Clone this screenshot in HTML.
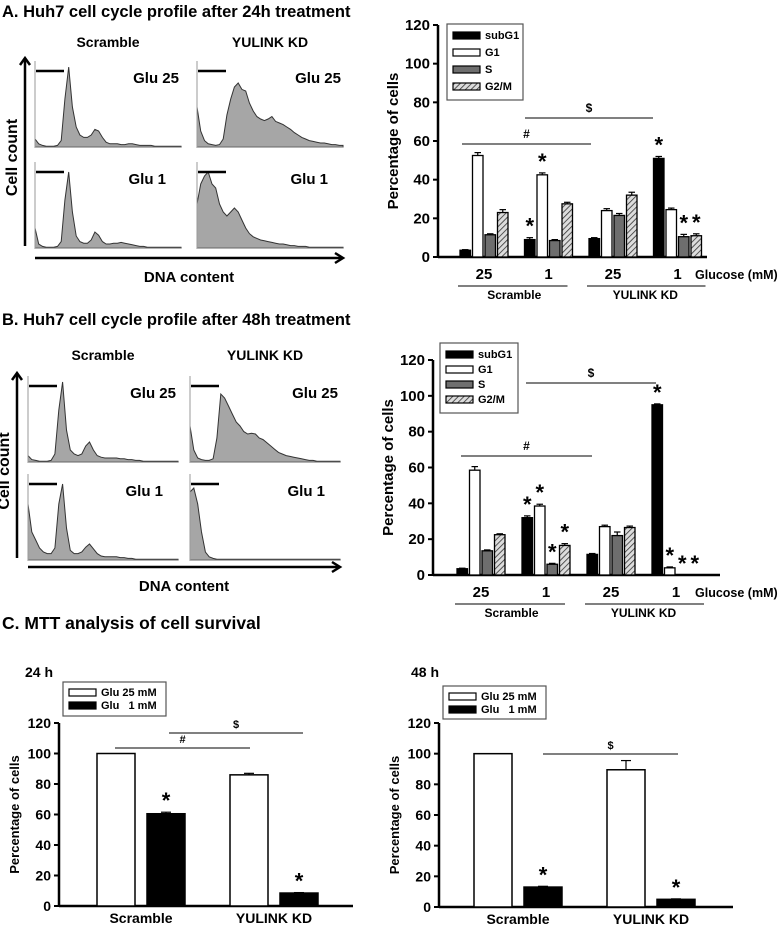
<!DOCTYPE html>
<html><head><meta charset="utf-8">
<style>
html,body{margin:0;padding:0;background:#fff;}
svg{display:block;font-family:"Liberation Sans",Arial,sans-serif;}
</style></head>
<body>
<svg id="fig" width="778" height="926" viewBox="0 0 778 926" xmlns="http://www.w3.org/2000/svg">
<defs>
<pattern id="hatch" patternUnits="userSpaceOnUse" width="4" height="4" patternTransform="rotate(45)">
<rect width="4" height="4" fill="#dcdcdc"/><line x1="0" y1="0" x2="0" y2="4" stroke="#333" stroke-width="1.6"/>
</pattern>
</defs>
<text x="2" y="17" font-size="16.5" font-weight="bold">A. Huh7 cell cycle profile after 24h treatment</text>
<text x="2" y="325" font-size="16.5" font-weight="bold">B. Huh7 cell cycle profile after 48h treatment</text>
<text x="2" y="629" font-size="17.5" font-weight="bold">C. MTT analysis of cell survival</text>
<text x="25" y="677" font-size="14" font-weight="bold">24 h</text>
<text x="411" y="677" font-size="14" font-weight="bold">48 h</text>
<g id="root"></g>
</svg>
<script>
// ---------- Histogram data (normalized heights, 0..1) ----------
const histA_scr25 = [0.1,0.04,0.02,0.01,0.01,0.01,0.02,0.08,0.6,1.0,0.5,0.25,0.15,0.12,0.12,0.15,0.22,0.2,0.12,0.06,0.04,0.04,0.04,0.03,0.03,0.04,0.04,0.03,0.02,0.02,0.02,0.02,0.01,0.01,0.01,0.01,0.01,0.01,0.01,0.01];
const histA_kd25 = [0.5,0.2,0.08,0.04,0.03,0.02,0.03,0.1,0.4,0.6,0.75,0.8,0.72,0.7,0.55,0.45,0.38,0.35,0.33,0.35,0.38,0.32,0.3,0.28,0.25,0.22,0.18,0.15,0.12,0.1,0.08,0.07,0.06,0.05,0.05,0.04,0.03,0.03,0.02,0.02];
const histA_scr1 = [0.25,0.05,0.02,0.01,0.01,0.01,0.02,0.08,0.6,0.95,0.45,0.15,0.08,0.06,0.06,0.1,0.2,0.16,0.08,0.05,0.05,0.06,0.06,0.07,0.06,0.05,0.04,0.03,0.02,0.02,0.01,0.01,0.01,0.01,0.01,0.01,0.01,0.01,0.01,0.01];
const histA_kd1 = [0.55,0.8,0.9,0.95,0.8,0.75,0.55,0.45,0.4,0.45,0.5,0.45,0.35,0.25,0.18,0.14,0.12,0.1,0.09,0.08,0.07,0.06,0.05,0.05,0.04,0.03,0.03,0.02,0.02,0.02,0.01,0.01,0.01,0.01,0.01,0.01,0.01,0.01,0.01,0.01];
const histB_scr25 = [0.08,0.03,0.02,0.01,0.01,0.01,0.02,0.1,0.65,1.0,0.4,0.15,0.1,0.08,0.1,0.2,0.25,0.15,0.08,0.06,0.05,0.05,0.05,0.05,0.04,0.04,0.03,0.03,0.02,0.02,0.01,0.01,0.01,0.01,0.01,0.01,0.01,0.01,0.01,0.01];
const histB_kd25 = [0.45,0.15,0.05,0.03,0.02,0.02,0.04,0.3,0.85,0.8,0.7,0.6,0.5,0.45,0.38,0.35,0.36,0.35,0.3,0.28,0.24,0.2,0.16,0.12,0.1,0.08,0.07,0.06,0.05,0.04,0.03,0.02,0.02,0.01,0.01,0.01,0.01,0.01,0.01,0.01];
const histB_scr1 = [0.7,0.35,0.25,0.15,0.1,0.08,0.08,0.15,0.7,0.95,0.4,0.12,0.08,0.08,0.1,0.16,0.2,0.14,0.08,0.05,0.04,0.04,0.04,0.04,0.03,0.03,0.02,0.02,0.01,0.01,0.01,0.01,0.01,0.01,0.01,0.01,0.01,0.01,0.01,0.01];
const histB_kd1 = [0.85,0.9,0.7,0.35,0.1,0.04,0.02,0.01,0.01,0.01,0.01,0.01,0.01,0.01,0.01,0.01,0.01,0.01,0.01,0.01,0.01,0.01,0.01,0.01,0.01,0.01,0.01,0.01,0.01,0.01,0.01,0.01,0.01,0.01,0.01,0.01,0.01,0.01,0.01,0.01];

// ---------- Bar chart data ----------
const phaseSeries = ["subG1","G1","S","G2/M"];
const glucoseLabels = ["25","1","25","1"];
const yTicks = [0,20,40,60,80,100,120];
const a_subG1 = [3.5, 9, 9.5, 51];
const a_G1 = [52.5, 42.5, 24, 24.5];
const a_S = [11.5, 8.5, 21.5, 10.5];
const a_G2M = [23, 27.5, 32, 11];
const a_err = [[0.3,1,0.5,1],[1.5,1,1,0.8],[0.5,0.5,1,1.2],[1.5,0.8,1.5,1]];
const a_stars = [[1,0],[1,1],[3,0],[3,2],[3,3]];
const b_subG1 = [3.5, 32, 11.5, 95];
const b_G1 = [58.5, 38.5, 27, 4];
const b_S = [13.5, 6, 22, 0];
const b_G2M = [22.5, 16.5, 26.5, 0];
const b_err = [[0.3,1,0.5,0.5],[2,1,0.8,0.5],[0.5,0.5,2,0],[0.5,1,0.8,0]];
const b_stars = [[1,0],[1,1],[1,2],[1,3],[3,0],[3,1],[3,2],[3,3]];
const mttCategories = ["Scramble","YULINK KD"];
const mttSeries = ["Glu 25 mM","Glu   1 mM"];
const mtt24_high = [100, 86];
const mtt24_low = [60.5, 8.5];
const mtt24_err = [[0,1],[1,0.3]];
const mtt48_high = [100, 89.5];
const mtt48_low = [13, 5];
const mtt48_err = [[0,6],[0.5,0.3]];

const NS="http://www.w3.org/2000/svg";
const root=document.getElementById('root');
function mk(tag,attrs,parent){const e=document.createElementNS(NS,tag);for(const k in attrs)e.setAttribute(k,attrs[k]);(parent||root).appendChild(e);return e;}

function hist(data,x0,x1,base,H,name){
  const n=data.length;let d=`M${x0},${base}`;
  data.forEach((v,i)=>{d+=` L${(x0+(x1-x0)*i/(n-1)).toFixed(1)},${(base-v*H).toFixed(1)}`;});
  d+=` L${x1},${base} Z`;
  const p=mk('path',{d:d,fill:'#a6a6a6',stroke:'#333','stroke-width':1});
  
  
  const ax=mk('line',{x1:x0,y1:base,x2:x1,y2:base,stroke:'#666','stroke-width':1});
  
  
  const yl=mk('line',{x1:x0,y1:base,x2:x0,y2:base-H-6,stroke:'#999','stroke-width':1});
  
  
}
function txt(x,y,s,size,name,anchor,extra){
  const t=mk('text',Object.assign({x:x,y:y,'font-size':size,'font-weight':'bold','text-anchor':anchor||'start'},extra||{}));
  t.textContent=s;
  
  
  return t;
}
function line(x1,y1,x2,y2,w,name,col){
  const l=mk('line',{x1:x1,y1:y1,x2:x2,y2:y2,stroke:col||'#000','stroke-width':w});
  
  
  return l;
}
function histPanel(cfg){
  const p=cfg;
  txt(p.sx+(p.sw)/2,p.titleY,'Scramble',14,'scramble-column-title','middle');
  txt(p.kx+(p.sw)/2,p.titleY,'YULINK KD',14,'kd-column-title','middle');
  hist(p.d[0],p.sx,p.sx+p.sw,p.b1,p.H,'hist-scramble-glu25');
  hist(p.d[1],p.kx,p.kx+p.sw,p.b1,p.H,'hist-kd-glu25');
  hist(p.d[2],p.sx,p.sx+p.sw,p.b2,p.H,'hist-scramble-glu1');
  hist(p.d[3],p.kx,p.kx+p.sw,p.b2,p.H,'hist-kd-glu1');
  [[p.sx,p.b1],[p.kx,p.b1],[p.sx,p.b2],[p.kx,p.b2]].forEach((q,i)=>{
    line(q[0]+1,q[1]-p.H+4,q[0]+29,q[1]-p.H+4,2.5,'subg1-gate-marker');
  });
  txt(p.sx+p.sw-2,p.b1-p.H+16,'Glu 25',15,'label-glu25','end');
  txt(p.kx+p.sw-2,p.b1-p.H+16,'Glu 25',15,'label-glu25','end');
  txt(p.sx+p.sw-15,p.b2-p.H+16,'Glu 1',15,'label-glu1','end');
  txt(p.kx+p.sw-15,p.b2-p.H+16,'Glu 1',15,'label-glu1','end');
  line(p.ax,p.b2-2,p.ax,p.b1-p.H-8,2.5,'y-axis-arrow');
  mk('path',{d:`M${p.ax-5},${p.b1-p.H-2} L${p.ax},${p.b1-p.H-9} L${p.ax+5},${p.b1-p.H-2}`,fill:'none',stroke:'#000','stroke-width':2.5});
  line(p.sx,p.xa,p.kx+p.sw-2,p.xa,2.5,'x-axis-arrow');
  mk('path',{d:`M${p.kx+p.sw-8},${p.xa-5} L${p.kx+p.sw},${p.xa} L${p.kx+p.sw-8},${p.xa+5}`,fill:'none',stroke:'#000','stroke-width':2.5});
  txt(p.sx+(p.kx+p.sw-p.sx)/2,p.xa+24,'DNA content',15,'x-axis-title','middle');
  txt(0,0,'Cell count',16,'y-axis-title','middle',{transform:`translate(${p.ax-8},${(p.b1-p.H+p.b2)/2}) rotate(-90)`});
}
histPanel({sx:35,kx:197,sw:146,b1:147,b2:248,H:80,titleY:47,ax:25,xa:258,d:[histA_scr25,histA_kd25,histA_scr1,histA_kd1]});
histPanel({sx:28,kx:190,sw:150,b1:462,b2:560,H:80,titleY:360,ax:17,xa:567,d:[histB_scr25,histB_kd25,histB_scr1,histB_kd1]});

const fills=['#000','#fff','#6e6e6e','url(#hatch)'];
function star(x,y){txt(x,y+10,'*',22,'significance-star','middle');}
function axesY(ax,y0,yTop,xEnd,ys,fs){
  line(ax,y0,xEnd,y0,2.5,'x-axis');
  line(ax,y0+1,ax,yTop,2.5,'y-axis');
  yTicks.forEach(t=>{
    line(ax-5,ys(t),ax,ys(t),2,'y-tick');
    txt(ax-8,ys(t)+5,String(t),fs,'y-tick-label','end');
  });
}
function groupedChart(c,series,errs,stars){
  const ys=v=>c.y0-v*(c.y0-c.yTop)/120;
  axesY(c.ax,c.y0,c.yTop,c.xEnd,ys,15);
  series.forEach((arr,s)=>{
    arr.forEach((v,g)=>{
      const x=c.g0+g*c.gs+s*12.5;
      const r=mk('rect',{x:x,y:ys(v),width:10.5,height:Math.max(0,c.y0-ys(v)),fill:fills[s],stroke:'#000','stroke-width':1.3});
      
      
      const e=errs[s][g];
      if(e>0&&v>0){line(x+5.25,ys(v),x+5.25,ys(v+e),1.2,'error-bar');line(x+2,ys(v+e),x+8.5,ys(v+e),1.2,'error-cap');}
    });
  });
  stars.forEach(([g,s])=>{const v=series[s][g]+errs[s][g];const x=c.g0+g*c.gs+s*12.5+5.25;star(x,ys(v)-14);});
  glucoseLabels.forEach((l,g)=>txt(c.g0+g*c.gs+24,c.y0+22,l,15,'glucose-label','middle'));
  txt(695,c.y0+22,'Glucose (mM)',12.5,'glucose-axis-title','start');
  line(c.g0-2,c.y0+29,c.g0+c.gs+43,c.y0+29,1,'scramble-group-line');
  line(c.g0+2*c.gs-2,c.y0+29,c.g0+3*c.gs+52,c.y0+29,1,'kd-group-line');
  txt(c.g0+c.gs/2+22,c.y0+42,'Scramble',12,'scramble-group-label','middle');
  txt(c.g0+2.5*c.gs+24,c.y0+42,'YULINK KD',12,'kd-group-label','middle');
  line(c.hash[0],c.hash[2],c.hash[1],c.hash[2],1,'sig-line-hash');
  txt((c.hash[0]+c.hash[1])/2,c.hash[2]-6,'#',12,'sig-hash','middle');
  line(c.dol[0],c.dol[2],c.dol[1],c.dol[2],1,'sig-line-dollar');
  txt((c.dol[0]+c.dol[1])/2,c.dol[2]-6,'$',12,'sig-dollar','middle');
  txt(0,0,'Percentage of cells',15,'y-axis-title','middle',{transform:`translate(${c.ax-40},${(c.y0+c.yTop)/2}) rotate(-90)`});
  const lb=c.leg;
  const box=mk('rect',{x:lb[0],y:lb[1],width:lb[2],height:lb[3],fill:'#fff',stroke:'#555','stroke-width':1.2});
  
  
  phaseSeries.forEach((n,i)=>{
    const yy=lb[1]+8+i*c.legStep;
    const r=mk('rect',{x:lb[0]+6,y:yy,width:27,height:7,fill:fills[i],stroke:'#000','stroke-width':1.2});
    
    
    txt(lb[0]+38,yy+7,n,11,'legend-entry','start');
  });
}
groupedChart({ax:438,y0:257,yTop:25,xEnd:707,g0:460,gs:64.5,hash:[462,591,144],dol:[525,653,118],leg:[447,24,76,76],legStep:17},[a_subG1,a_G1,a_S,a_G2M],a_err,a_stars);
groupedChart({ax:433,y0:575,yTop:360,xEnd:720,g0:457,gs:65,hash:[461,592,456],dol:[526,656,383],leg:[440,343,78,70],legStep:15},[b_subG1,b_G1,b_S,b_G2M],b_err,b_stars);

function mttChart(c,high,low,errs){
  const ys=v=>c.y0-v*(c.y0-c.yTop)/120;
  axesY(c.ax,c.y0,c.yTop,c.xEnd,ys,14);
  [high,low].forEach((arr,s)=>{
    arr.forEach((v,g)=>{
      const x=c.b0+g*c.gs+s*c.ss;
      const r=mk('rect',{x:x,y:ys(v),width:38,height:c.y0-ys(v),fill:s?'#000':'#fff',stroke:'#000','stroke-width':1.5});
      
      
      const e=errs[s][g];
      if(e>0){line(x+19,ys(v),x+19,ys(v+e),1.2,'error-bar');line(x+14,ys(v+e),x+24,ys(v+e),1.2,'error-cap');}
      if(s===1) star(x+19,ys(v+e)-14);
    });
  });
  mttCategories.forEach((n,g)=>txt(c.b0+g*c.gs+c.ss/2+19,c.y0+17,n,14,'category-label','middle'));
  txt(0,0,'Percentage of cells',13,'y-axis-title','middle',{transform:`translate(${c.ax-40},${(c.y0+c.yTop)/2}) rotate(-90)`});
  c.sig.forEach(sg=>{line(sg[0],sg[2],sg[1],sg[2],1,'sig-line');txt((sg[0]+sg[1])/2,sg[2]-5,sg[3],11,'sig-symbol','middle');});
  const lb=c.leg;
  const box=mk('rect',{x:lb[0],y:lb[1],width:lb[2],height:lb[3],fill:'#fff',stroke:'#555','stroke-width':1.2});
  
  
  mttSeries.forEach((n,i)=>{
    const yy=lb[1]+7+i*13;
    const r=mk('rect',{x:lb[0]+6,y:yy,width:27,height:7,fill:i?'#000':'#fff',stroke:'#000','stroke-width':1.2});
    
    
    const t=txt(lb[0]+38,yy+7,n,11,'legend-entry','start');
    t.setAttribute('xml:space','preserve');t.style.whiteSpace='pre';
  });
}
mttChart({ax:59,y0:906,yTop:723,xEnd:353,b0:97,gs:133,ss:50,leg:[63,682,103,34],sig:[[115,250,748,'#'],[169,303,733,'$']]},mtt24_high,mtt24_low,mtt24_err);
mttChart({ax:439,y0:907,yTop:723,xEnd:733,b0:474,gs:133,ss:50,leg:[443,686,103,33],sig:[[543,678,754,'$']]},mtt48_high,mtt48_low,mtt48_err);
</script>
</body></html>
